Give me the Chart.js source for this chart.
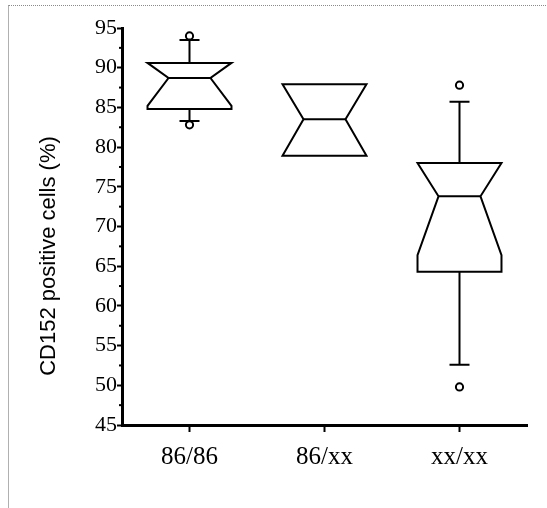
<!DOCTYPE html>
<html>
<head>
<meta charset="utf-8">
<script src="https://cdn.jsdelivr.net/npm/chart.js@4.4.1/dist/chart.umd.min.js"></script>
<style>
  html, body { margin: 0; padding: 0; background: #fff; }
  #wrap { position: relative; width: 547px; height: 508px; overflow: hidden; }
  #frame { position: absolute; left: 8px; top: 5px; right: -5px; bottom: -5px;
           border-top: 1px dotted #8a8a8a; border-left: 1px solid #b0b0b0; }
  canvas { position: absolute; left: 0; top: 0; }
</style>
</head>
<body>
<div id="wrap">
  <div id="frame"></div>
  <canvas id="c" width="547" height="508"></canvas>
</div>
<script>
// ---- data ----
const categories  = ['86/86', '86/xx', 'xx/xx'];
const q1          = [84.8, 78.9, 64.3];
const median      = [88.7, 83.5, 73.8];
const q3          = [90.6, 87.9, 78.0];
const notchLow    = [85.2, 78.9, 66.4];
const notchHigh   = [90.6, 87.9, 78.0];
const whiskerLow  = [83.3, null, 52.6];
const whiskerHigh = [93.5, null, 85.7];
const outliers    = [[94.0, 82.8], [], [87.8, 49.8]];
const yTitle      = 'CD152 positive cells (%)';
const yMin = 45, yMax = 95, yStep = 5;

const outlierPoints = [];
outliers.forEach((list, i) => list.forEach(v => outlierPoints.push({ x: categories[i], y: v })));

const boxPlugin = {
  id: 'notchedBox',
  afterDatasetsDraw(chart) {
    const ctx = chart.ctx;
    const ys = chart.scales.y;
    const meta = chart.getDatasetMeta(0);
    ctx.save();
    ctx.strokeStyle = '#000';
    ctx.lineWidth = 2;
    ctx.lineJoin = 'miter';
    meta.data.forEach((bar, i) => {
      const cx = bar.x, hw = bar.width / 2, nw = hw / 2;
      const yQ1 = ys.getPixelForValue(q1[i]);
      const yQ3 = ys.getPixelForValue(q3[i]);
      const yMed = ys.getPixelForValue(median[i]);
      const yNL = ys.getPixelForValue(notchLow[i]);
      const yNH = ys.getPixelForValue(notchHigh[i]);
      ctx.beginPath();
      ctx.moveTo(cx - hw, yQ3);
      ctx.lineTo(cx + hw, yQ3);
      ctx.lineTo(cx + hw, yNH);
      ctx.lineTo(cx + nw, yMed);
      ctx.lineTo(cx + hw, yNL);
      ctx.lineTo(cx + hw, yQ1);
      ctx.lineTo(cx - hw, yQ1);
      ctx.lineTo(cx - hw, yNL);
      ctx.lineTo(cx - nw, yMed);
      ctx.lineTo(cx - hw, yNH);
      ctx.closePath();
      ctx.stroke();
      ctx.beginPath();
      ctx.moveTo(cx - nw, yMed);
      ctx.lineTo(cx + nw, yMed);
      ctx.stroke();
      const cap = 10;
      if (whiskerHigh[i] !== null) {
        const yw = ys.getPixelForValue(whiskerHigh[i]);
        ctx.beginPath();
        ctx.moveTo(cx, yQ3); ctx.lineTo(cx, yw);
        ctx.moveTo(cx - cap, yw); ctx.lineTo(cx + cap, yw);
        ctx.stroke();
      }
      if (whiskerLow[i] !== null) {
        const yw = ys.getPixelForValue(whiskerLow[i]);
        ctx.beginPath();
        ctx.moveTo(cx, yQ1); ctx.lineTo(cx, yw);
        ctx.moveTo(cx - cap, yw); ctx.lineTo(cx + cap, yw);
        ctx.stroke();
      }
    });
    // minor ticks on y axis
    const x0 = chart.chartArea.left;
    for (let v = yMin + yStep / 2; v < yMax; v += yStep) {
      const y = ys.getPixelForValue(v);
      ctx.beginPath();
      ctx.moveTo(x0 - 3, y); ctx.lineTo(x0, y);
      ctx.stroke();
    }
    ctx.restore();
  },
  afterDraw(chart) {
    // y-axis title, placed as in the reference (slightly below the plot centre)
    const ctx = chart.ctx;
    ctx.save();
    ctx.translate(55, 256);
    ctx.rotate(-Math.PI / 2);
    ctx.font = '22px "Liberation Sans", Arial, sans-serif';
    ctx.fillStyle = '#000';
    ctx.textAlign = 'center';
    ctx.textBaseline = 'alphabetic';
    ctx.fillText(yTitle, 0, 0);
    ctx.restore();
  }
};

new Chart(document.getElementById('c'), {
  type: 'bar',
  data: {
    labels: categories,
    datasets: [
      {
        label: 'box',
        data: q1.map((v, i) => [v, q3[i]]),
        backgroundColor: 'rgba(0,0,0,0)',
        borderWidth: 0,
        categoryPercentage: 1,
        barPercentage: 0.622,
        order: 2
      },
      {
        type: 'line',
        label: 'outliers',
        data: outlierPoints,
        showLine: false,
        pointRadius: 3.6,
        pointBorderWidth: 2,
        pointBorderColor: '#000',
        pointBackgroundColor: '#fff',
        order: 0
      }
    ]
  },
  plugins: [boxPlugin],
  options: {
    responsive: false,
    animation: false,
    events: [],
    layout: { padding: { left: 0, top: 28, right: 20, bottom: 0 } },
    plugins: { legend: { display: false }, tooltip: { enabled: false } },
    scales: {
      x: {
        offset: true,
        grid: { display: true, offset: false, drawOnChartArea: false, drawTicks: true,
                tickLength: 7, tickColor: '#000', tickWidth: 2 },
        border: { display: true, color: '#000', width: 3 },
        ticks: { color: '#000', padding: 10, maxRotation: 0,
                 font: { family: '"Liberation Serif", "Times New Roman", serif', size: 25 } },
        afterFit(s) { s.height = 83; }
      },
      y: {
        min: yMin, max: yMax,
        grid: { display: true, drawOnChartArea: false, drawTicks: true,
                tickLength: 5, tickColor: '#000', tickWidth: 2 },
        border: { display: true, color: '#000', width: 3 },
        ticks: { stepSize: yStep, color: '#000', padding: 0,
                 font: { family: '"Liberation Serif", "Times New Roman", serif', size: 22 } },
        title: { display: false },
        afterFit(s) { s.width = 122; }
      }
    }
  }
});
</script>
</body>
</html>
